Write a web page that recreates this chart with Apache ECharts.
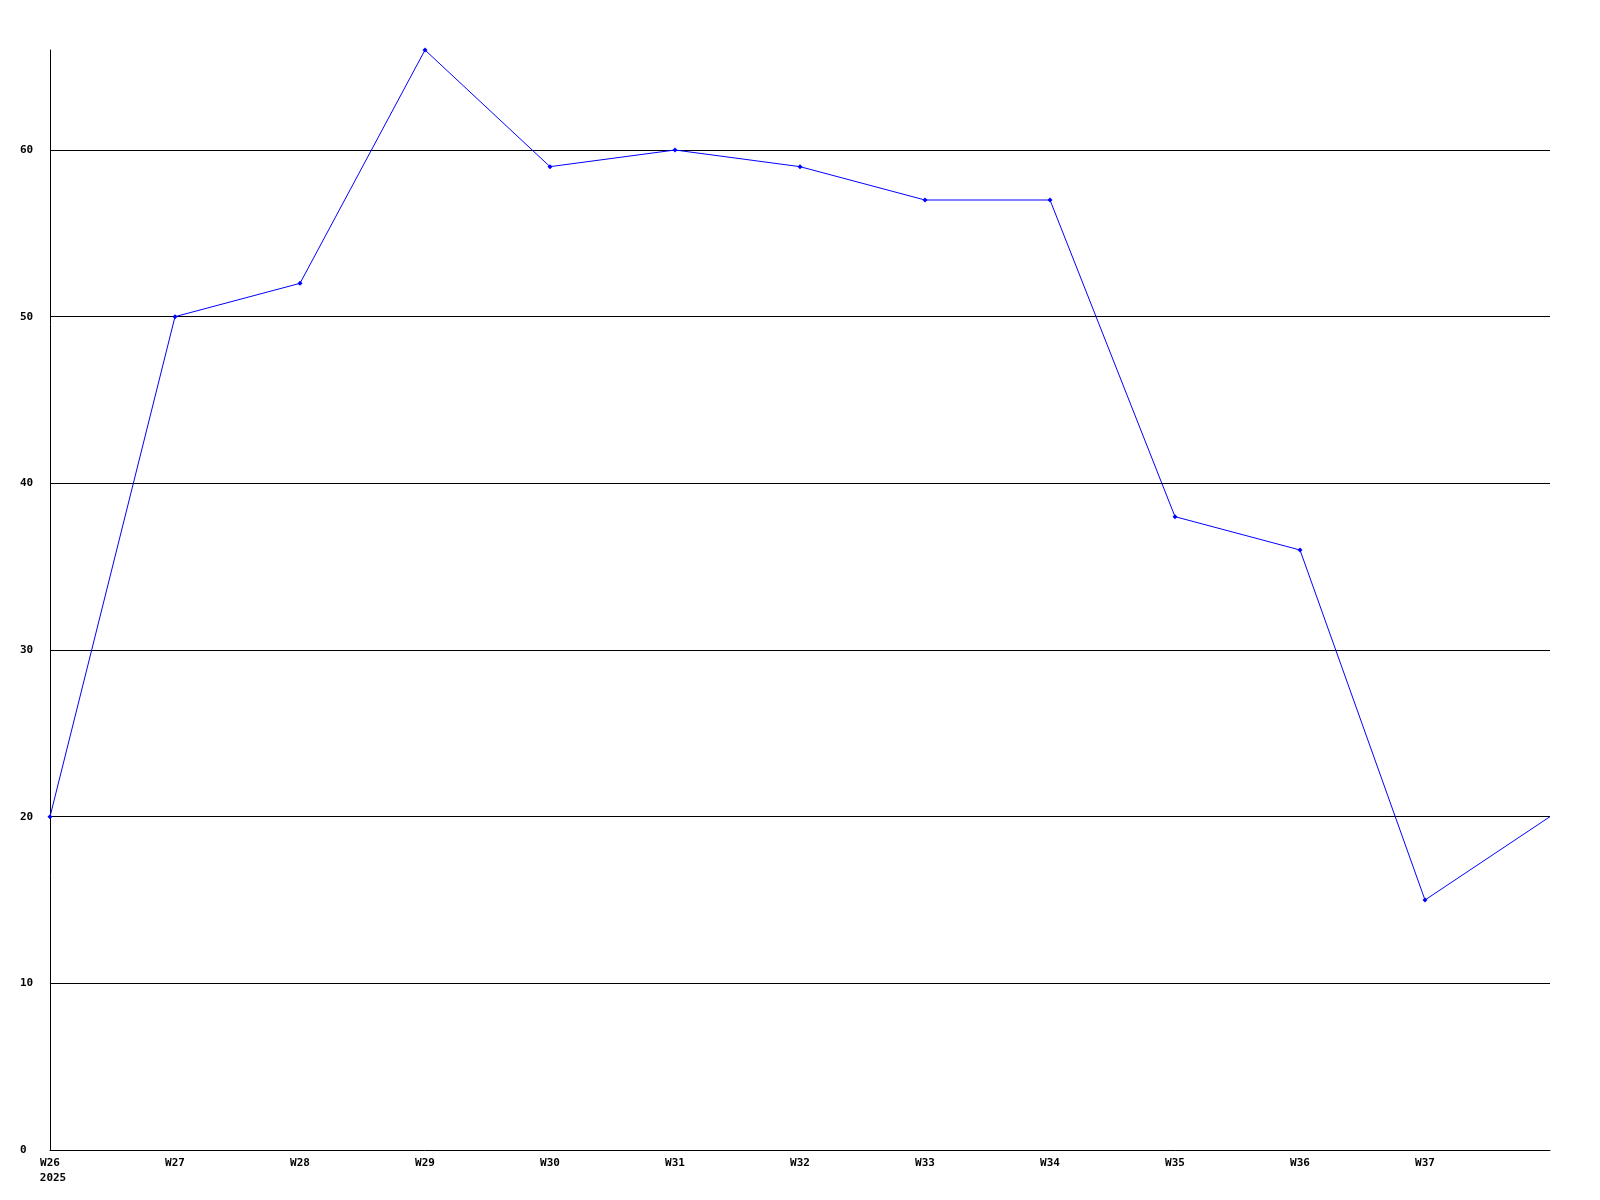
<!DOCTYPE html>
<html>
<head>
<meta charset="utf-8">
<script src="https://cdn.jsdelivr.net/npm/echarts@6/dist/echarts.min.js"></script>
<style>
html,body{margin:0;padding:0;background:#fff;}
#chart{width:1600px;height:1200px;}
</style>
</head>
<body>
<div id="chart"></div>
<script>
var categories = ['W26','W27','W28','W29','W30','W31','W32','W33','W34','W35','W36','W37','W38'];
var yearLabel = '2025';
var values = [20, 50, 52, 66, 59, 60, 59, 57, 57, 38, 36, 15, 20];
var gridLevels = [10, 20, 30, 40, 50, 60];
var yMax = 66;

var font = '"DejaVu Sans Mono", monospace';
var chart = echarts.init(document.getElementById('chart'));
var seriesData = values.map(function (v, i) {
  return i === values.length - 1 ? {value: v, symbol: 'none'} : v;
});
chart.setOption({
  animation: false,
  backgroundColor: '#ffffff',
  grid: {left: 50, right: 50, top: 50, bottom: 50, containLabel: false},
  xAxis: {
    type: 'category',
    data: categories,
    boundaryGap: false,
    axisLine: {lineStyle: {color: '#000', width: 1}},
    axisTick: {show: false},
    splitLine: {show: false},
    axisLabel: {
      interval: 0,
      margin: 6,
      color: '#000',
      fontFamily: font,
      fontWeight: 'bold',
      fontSize: 11,
      lineHeight: 15,
      rich: {
        yr: {fontFamily: font, fontWeight: 'bold', fontSize: 11, lineHeight: 15, color: '#000', padding: [0, 0, 0, 6]}
      },
      formatter: function (v, i) {
        if (i === categories.length - 1) return '';
        if (i === 0) return v + '\n{yr|' + yearLabel + '}';
        return v;
      }
    }
  },
  yAxis: {
    type: 'value',
    min: 0,
    max: yMax,
    interval: 10,
    axisLine: {show: true, lineStyle: {color: '#000', width: 1}},
    axisTick: {show: false},
    splitLine: {show: false},
    axisLabel: {
      align: 'left',
      margin: 30,
      color: '#000',
      fontFamily: font,
      fontWeight: 'bold',
      fontSize: 11,
      formatter: function (v) { return v % 10 === 0 ? String(v) : ''; }
    }
  },
  series: [{
    type: 'line',
    data: seriesData,
    symbol: 'diamond',
    symbolSize: 5,
    showAllSymbol: true,
    lineStyle: {color: '#0000ff', width: 1},
    itemStyle: {color: '#0000ff'},
    markLine: {
      silent: true,
      symbol: ['none', 'none'],
      label: {show: false},
      lineStyle: {color: '#000', width: 1, type: 'solid'},
      data: gridLevels.map(function (v) { return {yAxis: v}; }),
      z: 1
    }
  }]
});
</script>
</body>
</html>
